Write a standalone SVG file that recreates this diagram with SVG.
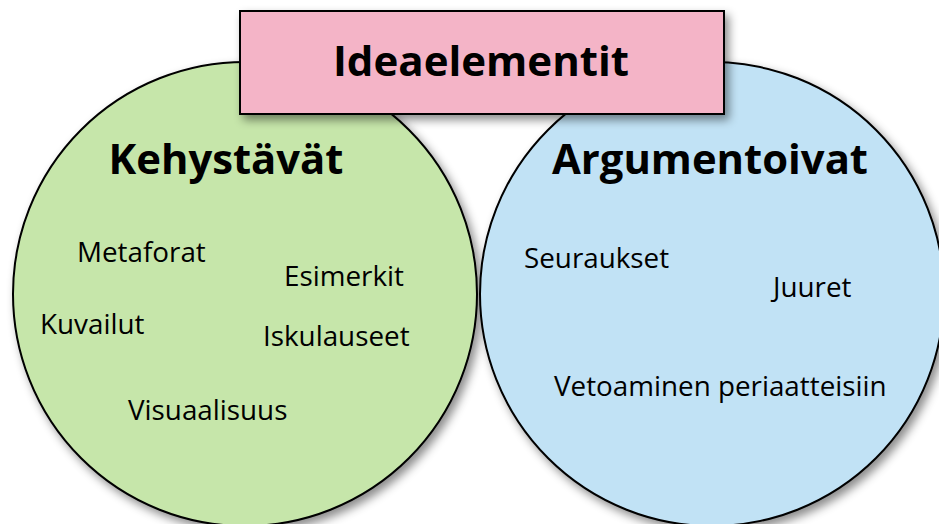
<svg xmlns="http://www.w3.org/2000/svg" width="939" height="524" viewBox="0 0 939 524">
<defs>
<filter id="sh" x="-20%" y="-20%" width="140%" height="140%">
<feDropShadow dx="4" dy="5" stdDeviation="5" flood-color="#000" flood-opacity="0.45"/>
</filter>
<style>
.c{stroke:#000;stroke-width:2;filter:url(#sh)}
.h{font-family:"Open Sans","Liberation Sans",sans-serif;font-weight:bold;fill:#000}
.t{font-family:"Open Sans","Liberation Sans",sans-serif;font-size:27.8px;fill:#000}
</style>
</defs>
<rect width="939" height="524" fill="#fff"/>
<g id="kehystavat">
<circle class="c" cx="245" cy="294" r="232" fill="#C6E6AA"/>
<text class="h" x="226" y="174" font-size="41.8" text-anchor="middle">Kehystävät</text>
<text class="t" x="77" y="262">Metaforat</text>
<text class="t" x="284" y="286">Esimerkit</text>
<text class="t" x="40" y="334">Kuvailut</text>
<text class="t" x="263" y="346">Iskulauseet</text>
<text class="t" x="128" y="420">Visuaalisuus</text>
</g>
<g id="argumentoivat">
<circle class="c" cx="712" cy="294" r="232" fill="#C1E2F5"/>
<text class="h" x="710" y="174" font-size="41.8" text-anchor="middle">Argumentoivat</text>
<text class="t" x="524" y="268">Seuraukset</text>
<text class="t" x="773" y="297">Juuret</text>
<text class="t" x="554" y="396">Vetoaminen periaatteisiin</text>
</g>
<g id="ideaelementit">
<rect class="c" x="240" y="11" width="484" height="103" fill="#F4B4C7"/>
<text class="h" x="481" y="76" font-size="42" text-anchor="middle">Ideaelementit</text>
</g>
<g id="connectors"/>
</svg>
